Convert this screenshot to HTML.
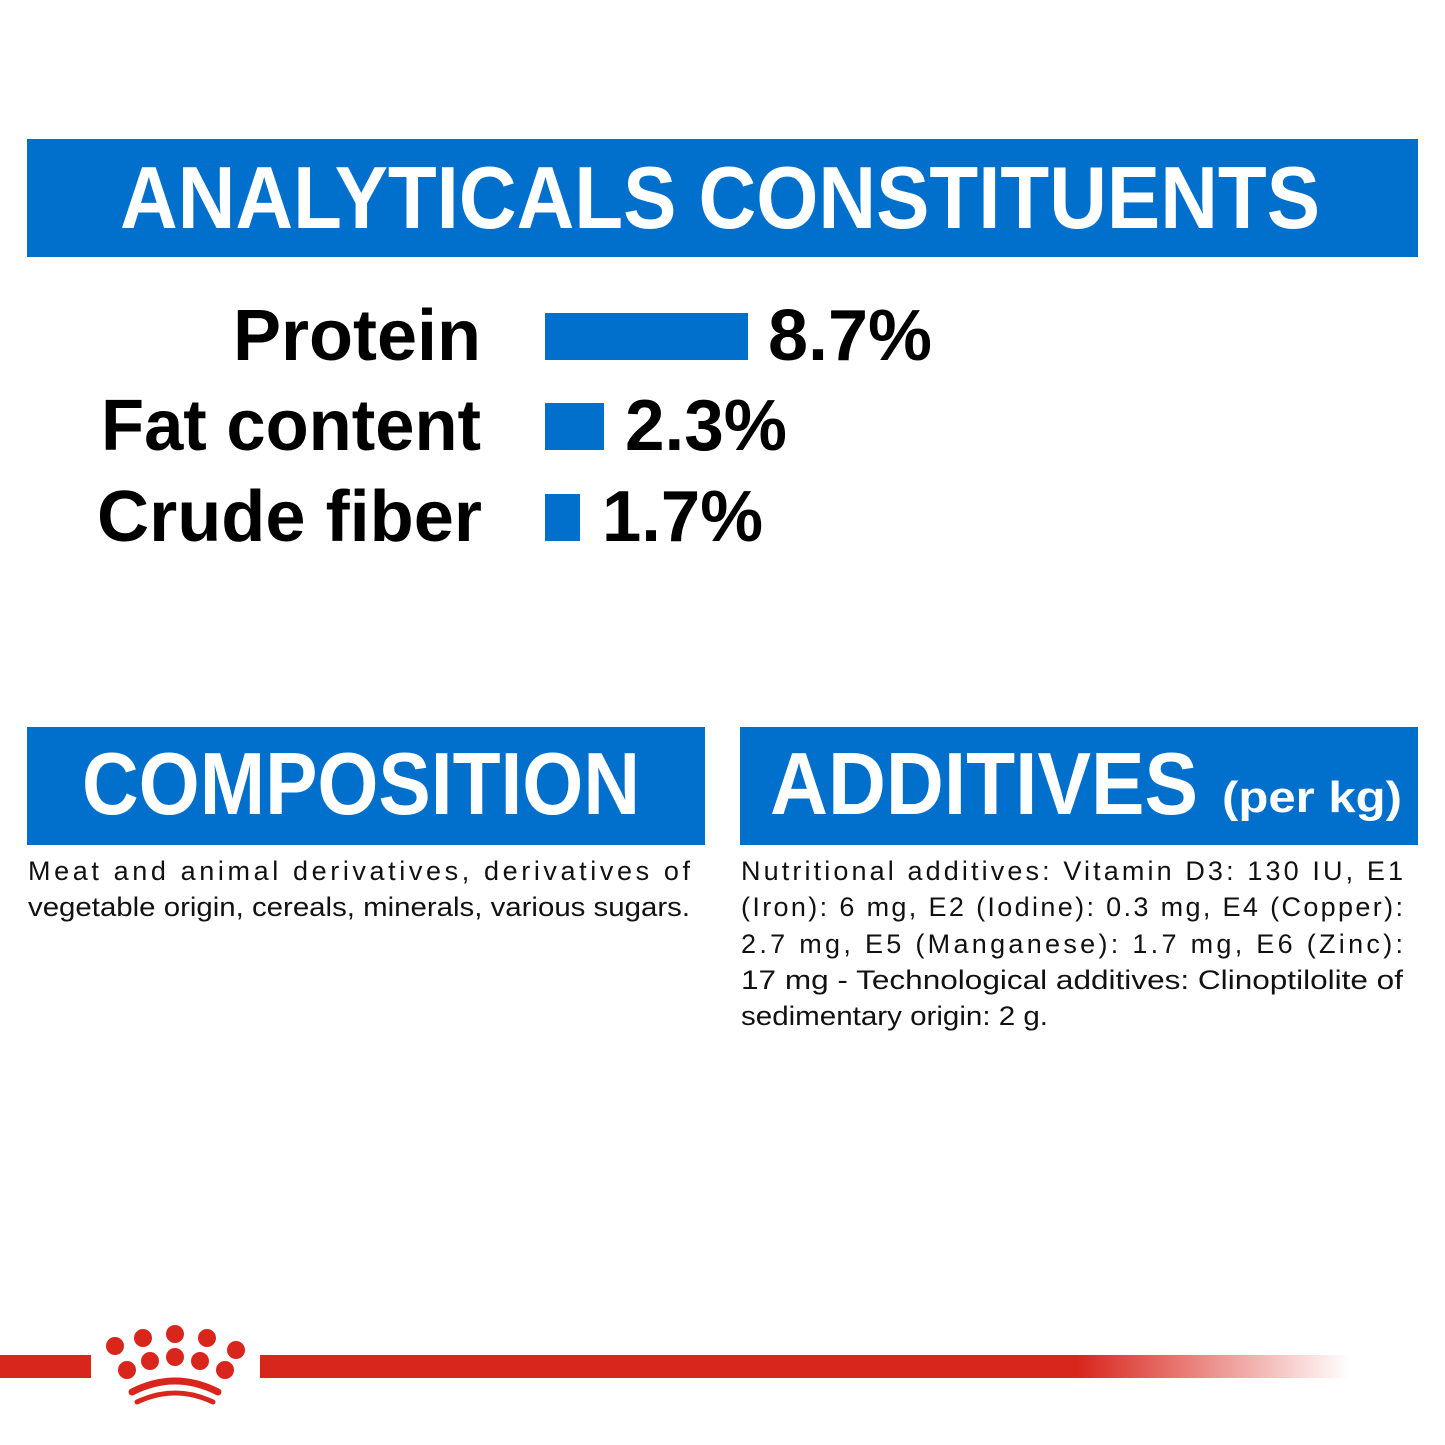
<!DOCTYPE html>
<html><head><meta charset="utf-8"><style>
html,body{margin:0;padding:0;background:#fff;}
svg{display:block;}
text{font-family:"Liberation Sans",sans-serif;}
</style></head><body>
<svg width="1445" height="1445" viewBox="0 0 1445 1445" xmlns="http://www.w3.org/2000/svg">
<defs>
<linearGradient id="g" x1="0" x2="1">
<stop offset="0" stop-color="#d9261c"/>
<stop offset="0.75" stop-color="#d9261c"/>
<stop offset="1" stop-color="#d9261c" stop-opacity="0"/>
</linearGradient>
</defs>
<rect width="1445" height="1445" fill="#fff"/>
<rect x="27" y="139" width="1391" height="118" fill="#0070cc"/>
<text x="120" y="228" font-size="88" font-weight="bold" fill="#fff" textLength="1200" lengthAdjust="spacingAndGlyphs">ANALYTICALS CONSTITUENTS</text>

<g font-weight="bold" font-size="72" fill="#000">
<text x="233" y="360" textLength="248" lengthAdjust="spacingAndGlyphs">Protein</text>
<text x="101" y="450" textLength="380" lengthAdjust="spacingAndGlyphs">Fat content</text>
<text x="97" y="541" textLength="385" lengthAdjust="spacingAndGlyphs">Crude fiber</text>
<text x="768" y="360" textLength="164" lengthAdjust="spacingAndGlyphs">8.7%</text>
<text x="625" y="450" textLength="162" lengthAdjust="spacingAndGlyphs">2.3%</text>
<text x="602" y="541" textLength="161" lengthAdjust="spacingAndGlyphs">1.7%</text>
</g>
<rect x="545" y="313" width="203" height="47" fill="#0070cc"/>
<rect x="545" y="403" width="59" height="47" fill="#0070cc"/>
<rect x="545" y="494" width="35" height="47" fill="#0070cc"/>

<rect x="27" y="727" width="678" height="118" fill="#0070cc"/>
<text x="82" y="814" font-size="88" font-weight="bold" fill="#fff" textLength="558" lengthAdjust="spacingAndGlyphs">COMPOSITION</text>
<rect x="740" y="727" width="678" height="118" fill="#0070cc"/>
<text x="770" y="814" font-size="88" font-weight="bold" fill="#fff" textLength="428" lengthAdjust="spacingAndGlyphs">ADDITIVES</text>
<text x="1222" y="812" font-size="44" font-weight="bold" fill="#fff" textLength="180" lengthAdjust="spacingAndGlyphs">(per kg)</text>

<g font-size="27" fill="#111">
<text x="28" y="880" textLength="662" lengthAdjust="spacing">Meat and animal derivatives, derivatives of</text>
<text x="28" y="916" textLength="662" lengthAdjust="spacingAndGlyphs">vegetable origin, cereals, minerals, various sugars.</text>
<text x="741" y="880" textLength="662" lengthAdjust="spacing">Nutritional additives: Vitamin D3: 130 IU, E1</text>
<text x="741" y="916" textLength="662" lengthAdjust="spacing">(Iron): 6 mg, E2 (Iodine): 0.3 mg, E4 (Copper):</text>
<text x="741" y="953" textLength="662" lengthAdjust="spacing">2.7 mg, E5 (Manganese): 1.7 mg, E6 (Zinc):</text>
<text x="741" y="989" textLength="662" lengthAdjust="spacingAndGlyphs">17 mg - Technological additives: Clinoptilolite of</text>
<text x="741" y="1025" textLength="307" lengthAdjust="spacingAndGlyphs">sedimentary origin: 2 g.</text>
</g>

<rect x="0" y="1355" width="91" height="23" fill="#d9261c"/>
<rect x="260" y="1355" width="1090" height="23" fill="url(#g)"/>
<g fill="#d9261c">
<circle cx="115" cy="1346" r="9"/><circle cx="143" cy="1338" r="9"/><circle cx="175" cy="1334" r="9"/><circle cx="207" cy="1338" r="9"/><circle cx="236" cy="1350" r="9"/>
<circle cx="127" cy="1370" r="9"/><circle cx="150" cy="1361" r="9"/><circle cx="175" cy="1357" r="9"/><circle cx="200" cy="1361" r="9"/><circle cx="225" cy="1370" r="9"/>
</g>
<path d="M132 1392 Q175 1370 218 1392" stroke="#d9261c" stroke-width="7" fill="none" stroke-linecap="round"/>
<path d="M137 1402 Q175 1384 213 1402" stroke="#d9261c" stroke-width="5" fill="none" stroke-linecap="round"/>
</svg>
</body></html>
